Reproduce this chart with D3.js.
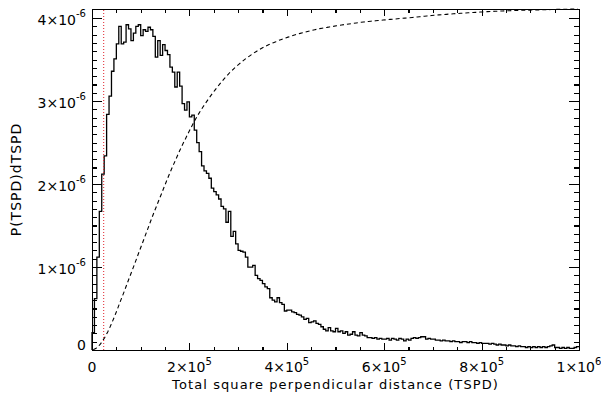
<!DOCTYPE html>
<html>
<head>
<meta charset="utf-8">
<script src="https://cdn.jsdelivr.net/npm/d3@7"></script>
<style>
  body { margin: 0; background: #fff; }
  svg { display: block; font-family: "DejaVu Sans", sans-serif; }
  .axis path, .axis line { stroke: #000; stroke-width: 1.1; shape-rendering: crispEdges; }
</style>
</head>
<body>
<svg id="chart" width="601" height="398"></svg>
<script>
// TSPD histogram: bins of 5000, density given in units of 1e-6
const binWidth = 5000;
const density = [
  0.21, 0.62, 1.12, 1.67, 2.12, 2.34, 2.84, 3.06, 3.36, 3.51,
  3.69, 3.90, 3.69, 3.71, 3.92, 3.87, 3.73, 3.82, 3.90, 3.92,
  3.79, 3.86, 3.84, 3.89, 3.86, 3.78, 3.53, 3.73, 3.55, 3.68,
  3.61, 3.56, 3.41, 3.35, 3.17, 3.35, 3.18, 2.97, 2.89, 2.99,
  2.81, 2.83, 2.65, 2.50, 2.39, 2.22, 2.16, 2.13, 2.07, 1.95,
  1.91, 1.87, 1.82, 1.73, 1.70, 1.54, 1.67, 1.37, 1.43, 1.28,
  1.20, 1.19, 1.18, 1.12, 1.00, 1.00, 1.02, 0.90, 0.86, 0.84,
  0.80, 0.76, 0.74, 0.63, 0.60, 0.58, 0.63, 0.57, 0.55, 0.47,
  0.48, 0.48, 0.46, 0.45, 0.43, 0.42, 0.40, 0.37, 0.38, 0.33,
  0.34, 0.35, 0.32, 0.31, 0.28, 0.25, 0.23, 0.27, 0.23, 0.22,
  0.26, 0.22, 0.23, 0.20, 0.22, 0.18, 0.19, 0.22, 0.18, 0.17,
  0.21, 0.18, 0.17, 0.15, 0.15, 0.14, 0.15, 0.13, 0.14, 0.13,
  0.13, 0.14, 0.12, 0.14, 0.13, 0.12, 0.14, 0.13, 0.11, 0.13,
  0.12, 0.14, 0.15, 0.14, 0.15, 0.16, 0.16, 0.13, 0.14, 0.13,
  0.13, 0.12, 0.12, 0.11, 0.12, 0.11, 0.11, 0.10, 0.11, 0.10,
  0.10, 0.09, 0.10, 0.10, 0.09, 0.10, 0.09, 0.09, 0.08, 0.09,
  0.08, 0.08, 0.08, 0.07, 0.08, 0.07, 0.06, 0.07, 0.06, 0.06,
  0.05, 0.06, 0.05, 0.05, 0.04, 0.05, 0.04, 0.04, 0.03, 0.04,
  0.03, 0.04, 0.03, 0.04, 0.03, 0.04, 0.03, 0.04, 0.05, 0.06,
  0.03, 0.03, 0.02, 0.03, 0.02, 0.03, 0.02, 0.02, 0.03, 0.04
];
const cutoff = 24000;   // red dotted marker

const xMax = 1e6;
const yMax = 4.11e-6;
const xTicks = [0, 2e5, 4e5, 6e5, 8e5, 1e6];
const xTickLabels = [['0', ''], ['2×10', '5'], ['4×10', '5'], ['6×10', '5'], ['8×10', '5'], ['1×10', '6']];
const yTicks = [0, 1e-6, 2e-6, 3e-6, 4e-6];
const yTickLabels = [['0', ''], ['1×10', '-6'], ['2×10', '-6'], ['3×10', '-6'], ['4×10', '-6']];
const xTitle = 'Total square perpendicular distance (TSPD)';
const yTitle = 'P(TSPD)dTSPD';

const margin = {top: 9, right: 22, bottom: 48, left: 92};
const width = 601 - margin.left - margin.right;
const height = 398 - margin.top - margin.bottom;

const svg = d3.select('#chart');
const g = svg.append('g').attr('transform', `translate(${margin.left},${margin.top})`);

const x = d3.scaleLinear().domain([0, xMax]).range([0, width]);
const y = d3.scaleLinear().domain([0, yMax]).range([height, 0]);

// histogram bins and cumulative curve
const bins = density.map((v, i) => ({x0: i * binWidth, v: v * 1e-6}));
const total = d3.sum(density);
const cum = d3.cumsum(density);
const cdf = bins.map((b, i) => ({x: b.x0 + binWidth / 2, v: cum[i] / total * yMax}));

const stepPts = [[0, 0]].concat(bins.map(b => [b.x0, b.v]), [[xMax, bins[bins.length - 1].v]]);

g.append('path')
    .datum(stepPts)
    .attr('fill', 'none')
    .attr('stroke', '#000')
    .attr('stroke-width', 1.3)
    .attr('d', d3.line().x(d => x(d[0])).y(d => y(d[1])).curve(d3.curveStepAfter));

g.append('path')
    .datum(cdf)
    .attr('fill', 'none')
    .attr('stroke', '#000')
    .attr('stroke-width', 1.1)
    .attr('stroke-dasharray', '4,3')
    .attr('d', d3.line().x(d => x(d.x)).y(d => y(d.v)));

g.append('line')
    .attr('x1', x(cutoff)).attr('x2', x(cutoff))
    .attr('y1', y(0)).attr('y2', y(yMax))
    .attr('stroke', '#e0202a')
    .attr('stroke-width', 1)
    .attr('stroke-dasharray', '1,2');

// axes, ticks pointing inward on all four sides
const xMinor = d3.range(0, xMax + 1, 5e4);
const yMinor = d3.range(0, 41).map(d => d * 1e-7);

function addAxis(gen, scale, vals, size, tr) {
  g.append('g').attr('class', 'axis').attr('transform', tr)
      .call(gen(scale).tickValues(vals).tickSize(-size).tickSizeOuter(0).tickFormat(''));
}
addAxis(d3.axisBottom, x, xMinor, 3.5, `translate(0,${height})`);
addAxis(d3.axisBottom, x, xTicks, 7, `translate(0,${height})`);
addAxis(d3.axisTop, x, xMinor, 3.5, 'translate(0,0)');
addAxis(d3.axisTop, x, xTicks, 7, 'translate(0,0)');
addAxis(d3.axisLeft, y, yMinor, 5, 'translate(0,0)');
addAxis(d3.axisLeft, y, yTicks, 10, 'translate(0,0)');
addAxis(d3.axisRight, y, yMinor, 5, `translate(${width},0)`);
addAxis(d3.axisRight, y, yTicks, 10, `translate(${width},0)`);
g.selectAll('.axis .domain').attr('stroke-width', 1.3);

// tick labels with superscript exponents
const xl = g.append('g').attr('font-size', 14).attr('text-anchor', 'middle');
xTicks.forEach((t, i) => {
  const txt = xl.append('text').attr('x', x(t)).attr('y', height + 22);
  txt.append('tspan').text(xTickLabels[i][0]);
  if (xTickLabels[i][1]) txt.append('tspan').attr('dy', -7).attr('font-size', 10).text(xTickLabels[i][1]);
});

const yl = g.append('g').attr('font-size', 14).attr('text-anchor', 'end');
yTicks.forEach((t, i) => {
  const txt = yl.append('text').attr('x', -6).attr('y', Math.min(y(t) + 7, height));
  txt.append('tspan').text(yTickLabels[i][0]);
  if (yTickLabels[i][1]) txt.append('tspan').attr('dy', -8).attr('font-size', 10).text(yTickLabels[i][1]);
});

// axis titles
svg.append('text')
    .attr('x', margin.left + width / 2)
    .attr('y', 389)
    .attr('text-anchor', 'middle')
    .attr('font-size', 13)
    .attr('letter-spacing', 1.1)
    .text(xTitle);

svg.append('text')
    .attr('transform', `translate(21,${margin.top + height / 2}) rotate(-90)`)
    .attr('text-anchor', 'middle')
    .attr('font-size', 14)
    .attr('letter-spacing', 1)
    .text(yTitle);
</script>
</body>
</html>
